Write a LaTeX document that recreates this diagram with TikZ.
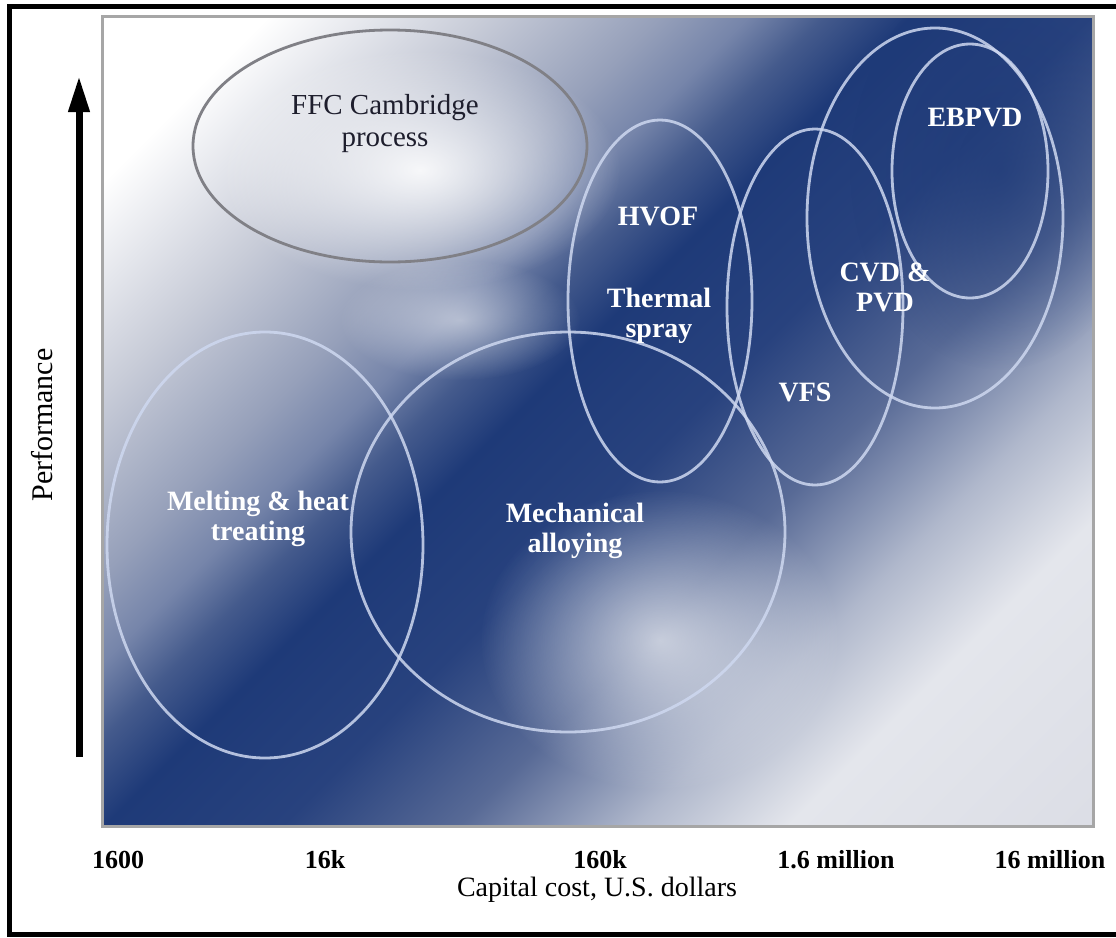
\documentclass[tikz,border=0pt]{standalone}
\usepackage{fontspec}
\setmainfont{Liberation Serif}
\usepackage{xcolor}
\usetikzlibrary{arrows.meta, positioning, calc, shapes.geometric, fadings}

\definecolor{panelnavy}{RGB}{30,58,120}
\definecolor{bandA}{RGB}{200,204,216}
\definecolor{bandB}{RGB}{150,160,186}
\definecolor{bandC}{RGB}{118,133,170}
\definecolor{bandD}{RGB}{68,90,140}
\definecolor{bandE}{RGB}{40,66,126}
\definecolor{bandF}{RGB}{88,106,150}
\definecolor{bandG}{RGB}{176,184,204}
\definecolor{bandH}{RGB}{228,230,236}
\definecolor{bandI}{RGB}{220,222,230}
\definecolor{ringcol}{RGB}{206,216,240}
\definecolor{ffcring}{RGB}{128,128,134}

\pgfdeclarehorizontalshading{costband}{100bp}{color(0bp)=(white); color(21bp)=(white);
  color(29.5bp)=(bandA); color(36.5bp)=(bandB); color(40bp)=(bandC); color(43bp)=(bandD);
  color(46.5bp)=(panelnavy); color(53.5bp)=(bandE); color(60.5bp)=(bandF);
  color(67.5bp)=(bandG); color(73.5bp)=(bandH); color(85bp)=(bandI); color(100bp)=(bandI)}

\tikzfading[name=glowfade, inner color=transparent!0, outer color=transparent!100]

\begin{document}
\begin{tikzpicture}[x=0.5pt, y=-0.5pt,
    region/.style={ellipse, draw=ringcol, line width=1.4pt, draw opacity=0.85, inner sep=0pt},
    inlabel/.style={text=white, align=center, font=\fontsize{14}{15}\selectfont\bfseries},
    ticklabel/.style={font=\fontsize{13}{15}\selectfont\bfseries}]
    \useasboundingbox (0,0) rectangle (1116,938);
    % frame
    \draw[line width=2.5pt] (1116,6) -- (9,6) -- (9,934) -- (1116,934);
    % shaded panel
    \begin{scope}
        \clip (102,16) rectangle (1093,826);
        \shade[shading=costband, shading angle=-45] (102,16) rectangle (1093,826);
        \fill[panelnavy, path fading=glowfade, fill opacity=0.7] (1000,170) ellipse [x radius=150, y radius=200];
        \fill[white, path fading=glowfade, fill opacity=0.9] (420,170) ellipse [x radius=200, y radius=120];
        \fill[white, path fading=glowfade, fill opacity=0.65] (660,640) ellipse [x radius=180, y radius=150];
        \fill[white, path fading=glowfade, fill opacity=0.5] (460,320) ellipse [x radius=120, y radius=60];
    \end{scope}
    \draw[gray!70, line width=1.5pt] (102,16) rectangle (1093,826);

    % process regions
    \node[region, draw=ffcring, draw opacity=1, minimum width=197pt, minimum height=116pt] (ffc) at (390,146) {};
    \node[region, minimum width=158pt, minimum height=213pt] (melt) at (265,545) {};
    \node[region, minimum width=217pt, minimum height=200pt] (mech) at (568,532) {};
    \node[region, minimum width=92pt, minimum height=181pt] (spray) at (660,301) {};
    \node[region, minimum width=88pt, minimum height=178pt] (vfs) at (815,307) {};
    \node[region, minimum width=128pt, minimum height=190pt] (cvd) at (935,218) {};
    \node[region, minimum width=78pt, minimum height=127pt] (ebpvd) at (970,171) {};

    \node[align=center, text={rgb,255:red,30;green,30;blue,45}, font=\fontsize{14.5}{16}\selectfont] (ffctext) at (385,124) {FFC Cambridge\\process};
    \node[inlabel] (hvoftext) at (658,216) {HVOF};
    \node[inlabel] (spraytext) at (659,316) {Thermal\\spray};
    \node[inlabel] (vfstext) at (805,392) {VFS};
    \node[inlabel] (cvdtext) at (885,287) {CVD \&\\PVD};
    \node[inlabel] (ebpvdtext) at (975,118) {EBPVD};
    \node[inlabel] (melttext) at (258,519) {Melting \& heat\\treating};
    \node[inlabel] (mechtext) at (575,531) {Mechanical\\alloying};

    % axes
    \coordinate (perflo) at (79,757);
    \coordinate (perfhi) at (79,76);
    \draw[line width=3.5pt, -{Triangle[length=18pt, width=10pt]}] (perflo) -- (perfhi);
    \node[rotate=90, font=\fontsize{15}{17}\selectfont] (perf) at (42,425) {Performance};

    \node[ticklabel] (t1600) at (118,860) {1600};
    \node[ticklabel] (t16k) at (325,860) {16k};
    \node[ticklabel] (t160k) at (600,860) {160k};
    \node[ticklabel] (t16m) at (836,860) {1.6 million};
    \node[ticklabel] (t16mm) at (1050,860) {16 million};
    \node[font=\fontsize{14}{16}\selectfont] (costlabel) at (597,890) {Capital cost, U.S. dollars};
\end{tikzpicture}
\end{document}
